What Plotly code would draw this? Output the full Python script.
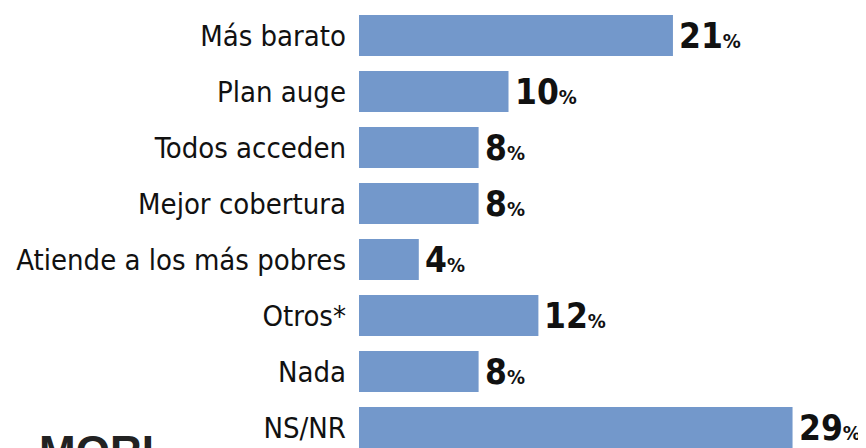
import plotly.graph_objects as go

categories = ["Más barato", "Plan auge", "Todos acceden", "Mejor cobertura",
              "Atiende a los más pobres", "Otros*", "Nada", "NS/NR"]
values = [21, 10, 8, 8, 4, 12, 8, 29]

BAR_COLOR = "#7398CB"
FONT = "DejaVu Sans Condensed, Liberation Sans Narrow, sans-serif"

fig = go.Figure()
fig.add_trace(go.Bar(
    y=categories, x=values, orientation="h",
    marker=dict(color=BAR_COLOR, line=dict(width=0)),
    hoverinfo="skip",
))

annotations = []
for c, v in zip(categories, values):
    annotations.append(dict(
        x=v, y=c, xref="x", yref="y",
        text=f"<b>{v}</b><b><span style='font-size:20px'>%</span></b>",
        showarrow=False, xanchor="left", yanchor="middle", xshift=4, yshift=0,
        font=dict(family=FONT, size=35, color="#111111"),
    ))
annotations.append(dict(
    x=0, y=0, xref="paper", yref="paper", xanchor="left", yanchor="top",
    xshift=-322, yshift=31, showarrow=False,
    text="<b>MORI</b>", font=dict(family="Liberation Sans, Arial, sans-serif", size=44, color="#222222"),
))

fig.update_layout(
    width=866, height=448,
    margin=dict(l=351, r=0, t=0, b=0),
    paper_bgcolor="white", plot_bgcolor="white",
    bargap=0.27,
    showlegend=False,
    annotations=annotations,
    xaxis=dict(range=[0, 515 / 14.95], visible=False, fixedrange=True, automargin=False),
    yaxis=dict(
        range=[7.509, -0.491], showgrid=False, zeroline=False, showline=False,
        ticks="", ticklabelstandoff=12, automargin=False,
        tickfont=dict(family=FONT, size=29, color="#111111"),
        fixedrange=True,
    ),
)

fig.write_html("out.html")
